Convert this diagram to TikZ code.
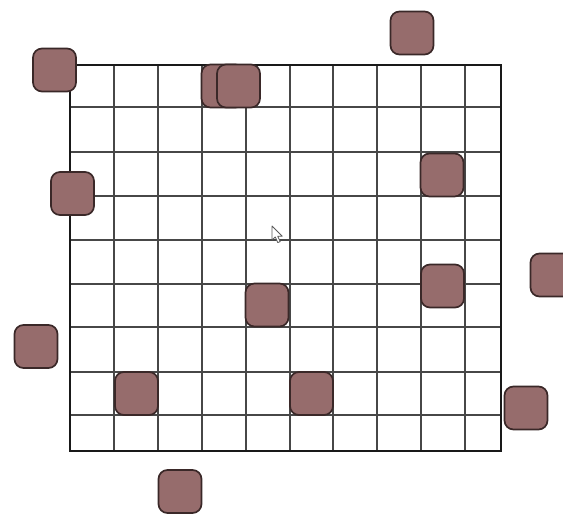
\documentclass[tikz,border=0pt]{standalone}
\begin{document}
\begin{tikzpicture}[x=1pt,y=-1pt,
  gridline/.style={draw=black!72,line width=1.1pt},
  frame/.style={draw=black!90,line width=2.2pt},
  tile/.style={draw=tileedge,fill=tilefill,line width=1.7pt,rounded corners=9pt,minimum size=43pt,inner sep=0pt,shape=rectangle},
  pointer/.style={draw=black!65,line width=0.8pt,fill=white,line join=round}]
\definecolor{tilefill}{RGB}{150,108,108}
\definecolor{tileedge}{RGB}{58,40,40}
\useasboundingbox (0,0) rectangle (563,514);
\fill[white] (0,0) rectangle (563,514);
% grid
\foreach \gx in {114,158,202,246,290,333,377,421,465}
  \draw[gridline] (\gx,65) -- (\gx,451);
\foreach \gy in {107,152,196,240,284,327,372,415}
  \draw[gridline] (70,\gy) -- (501,\gy);
\draw[frame] (70,65) rectangle (501,451);
% cursor
\draw[pointer] (272,226) -- (272,240) -- (275.3,237) -- (277.8,242.6) -- (280.2,241.6) -- (277.7,236.2) -- (282.2,236.2) -- cycle;
% tiles
\node[tile] (t1) at (54.5,70) {};
\node[tile] (t2) at (223,86) {};
\node[tile] (t3) at (238.5,86) {};
\node[tile] (t4) at (72.5,193.5) {};
\node[tile] (t5) at (412,33) {};
\node[tile] (t6) at (442,175) {};
\node[tile] (t7) at (36,346.5) {};
\node[tile] (t8) at (267,305) {};
\node[tile] (t9) at (136.5,393.5) {};
\node[tile] (t10) at (180,491.5) {};
\node[tile] (t11) at (311.5,393.5) {};
\node[tile] (t12) at (442.5,286) {};
\node[tile] (t13) at (552,275) {};
\node[tile] (t14) at (526,408) {};
\end{tikzpicture}
\end{document}
